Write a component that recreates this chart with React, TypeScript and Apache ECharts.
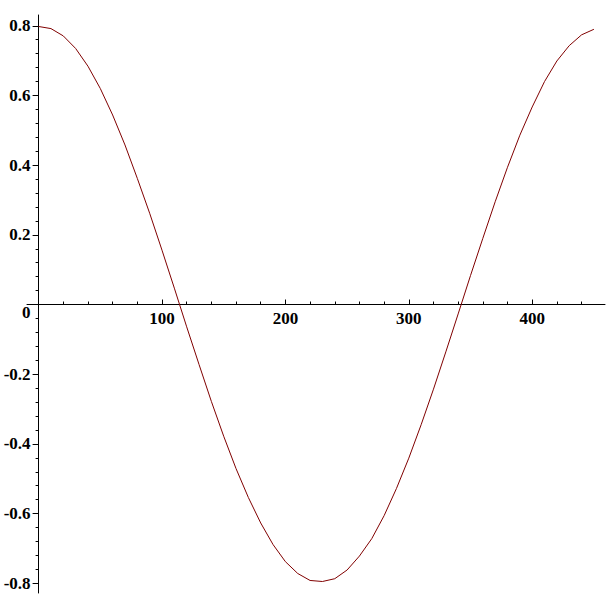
import React, { useEffect, useRef } from "react";
import * as echarts from "echarts";

// Curve values
const xValues = [
  0, 10, 20, 30, 40, 50, 60, 70, 80, 90, 100, 110, 120, 130, 140, 150, 160, 170,
  180, 190, 200, 210, 220, 230, 240, 250, 260, 270, 280, 290, 300, 310, 320, 330,
  340, 350, 360, 370, 380, 390, 400, 410, 420, 430, 440, 450,
];
const yValues = [
  0.798, 0.792, 0.771, 0.735, 0.684, 0.620, 0.544, 0.458, 0.362, 0.262, 0.156,
  0.047, -0.064, -0.172, -0.278, -0.378, -0.471, -0.554, -0.627, -0.689, -0.738,
  -0.772, -0.792, -0.795, -0.787, -0.762, -0.722, -0.672, -0.606, -0.528, -0.441,
  -0.345, -0.243, -0.136, -0.027, 0.083, 0.190, 0.295, 0.394, 0.486, 0.567,
  0.640, 0.699, 0.743, 0.774, 0.790,
];

// Tick labels
const xTickValues = [100, 200, 300, 400];
const yTickValues = [-0.8, -0.6, -0.4, -0.2, 0, 0.2, 0.4, 0.6, 0.8];

const xRange = [-9.4, 459];
const yRange = [-0.828, 0.831];

const near = (v: number, list: number[]) => list.some((t) => Math.abs(t - v) < 1e-6);

export default function App() {
  const ref = useRef<HTMLDivElement>(null);

  useEffect(() => {
    if (!ref.current) return;
    const chart = echarts.init(ref.current, null, { renderer: "svg" });
    const labelFont = {
      fontFamily: "Liberation Serif",
      fontWeight: "bold" as const,
      fontSize: 17,
      color: "#000",
    };
    const gridLeft = 27;
    const gridRight = 3;
    const gridTop = 15;
    const gridBottom = 15;
    const gridW = 608 - gridLeft - gridRight;
    const gridH = 608 - gridTop - gridBottom;
    // place the axes through the origin
    const xAxisOffset = -gridH * (0 - yRange[0]) / (yRange[1] - yRange[0]);
    const yAxisOffset = -gridW * (0 - xRange[0]) / (xRange[1] - xRange[0]);

    chart.setOption({
      animation: false,
      backgroundColor: "#fff",
      grid: {
        left: gridLeft,
        right: gridRight,
        top: gridTop,
        bottom: gridBottom,
        containLabel: false,
        outerBoundsMode: "none",
      },
      xAxis: {
        type: "value",
        min: xRange[0],
        max: xRange[1],
        splitNumber: 5,
        position: "bottom",
        offset: xAxisOffset,
        axisLine: { show: true, onZero: false, lineStyle: { color: "#000", width: 1 } },
        axisTick: {
          show: true,
          inside: true,
          length: 5,
          customValues: xTickValues,
          lineStyle: { color: "#000" },
        },
        minorTick: { show: true, splitNumber: 5, length: 3, lineStyle: { color: "#000" } },
        axisLabel: {
          ...labelFont,
          margin: 5,
          showMinLabel: false,
          showMaxLabel: false,
          hideOverlap: false,
          formatter: (v: number) => (near(v, xTickValues) ? String(v) : ""),
        },
        splitLine: { show: false },
      },
      yAxis: {
        type: "value",
        min: yRange[0],
        max: yRange[1],
        splitNumber: 8,
        position: "left",
        offset: yAxisOffset,
        axisLine: { show: true, onZero: false, lineStyle: { color: "#000", width: 1 } },
        axisTick: {
          show: true,
          inside: false,
          length: 6,
          customValues: yTickValues,
          lineStyle: { color: "#000" },
        },
        minorTick: { show: true, splitNumber: 5, length: 3, lineStyle: { color: "#000" } },
        axisLabel: {
          ...labelFont,
          margin: 8,
          showMinLabel: false,
          showMaxLabel: false,
          hideOverlap: false,
          formatter: (v: number) =>
            !near(v, yTickValues) ? "" : Math.abs(v) < 1e-9 ? "{z|0}" : v.toFixed(1),
          rich: {
            z: { ...labelFont, padding: [16, 0, 0, 0] },
          },
        },
        splitLine: { show: false },
      },
      series: [
        {
          type: "line",
          data: xValues.map((x, i) => [x, yValues[i]]),
          showSymbol: false,
          smooth: false,
          lineStyle: { color: "#800000", width: 1 },
          itemStyle: { color: "#800000" },
        },
      ],
    });
    return () => chart.dispose();
  }, []);

  return (
    <div style={{ position: "fixed", left: 0, top: 0, width: 608, height: 608 }}>
      <div ref={ref} style={{ width: 608, height: 608 }} />
    </div>
  );
}
